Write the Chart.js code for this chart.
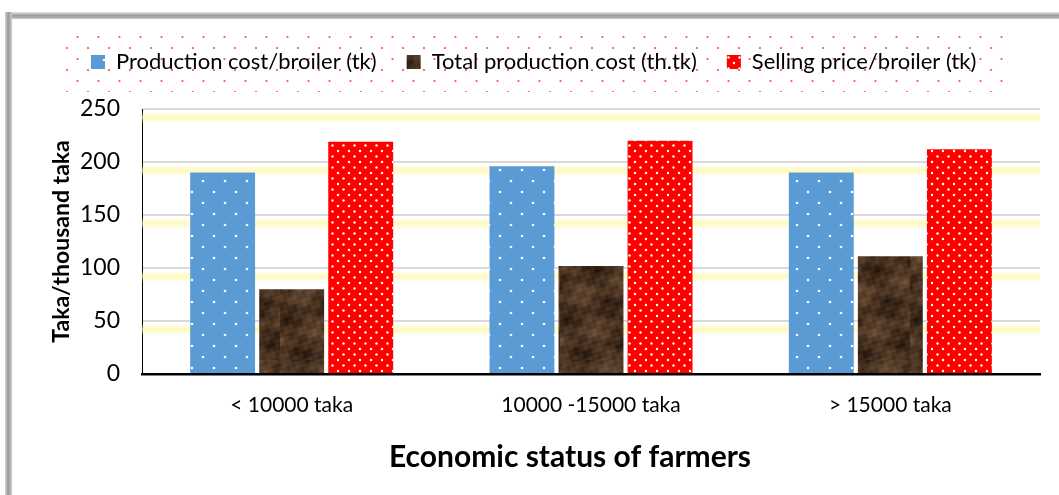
<!DOCTYPE html>
<html><head><meta charset="utf-8">
<script src="https://cdn.jsdelivr.net/npm/chart.js@4.4.1/dist/chart.umd.min.js"></script>
<style>html,body{margin:0;padding:0;background:#fff;overflow:hidden}#wrap{width:1059px;height:495px;position:relative}</style>
</head><body><div id="wrap"><canvas id="c" width="1059" height="495"></canvas></div>
<script>
// ---- data ----
const categories = ['< 10000 taka', '10000 -15000 taka', '> 15000 taka'];
const productionCostPerBroiler = [190, 196, 190];
const totalProductionCost = [80, 102, 111];
const sellingPricePerBroiler = [219, 220, 212];
const seriesNames = ['Production cost/broiler (tk)', 'Total production cost (th.tk)', 'Selling price/broiler (tk)'];
const yTickValues = [0, 50, 100, 150, 200, 250];
const xTitle = 'Economic status of farmers';
const yTitle = 'Taka/thousand taka';

const FONT = 'Lato';
const canvas = document.getElementById('c');
const mainCtx = canvas.getContext('2d');

function makeTile(w, h, draw) {
  const c = document.createElement('canvas'); c.width = w; c.height = h;
  draw(c.getContext('2d'), w, h);
  return mainCtx.createPattern(c, 'repeat');
}
function dots(x, pts, r, col) {
  x.fillStyle = col;
  pts.forEach(([px, py]) => { x.beginPath(); x.arc(px, py, r, 0, Math.PI * 2); x.fill(); });
}
const bluePattern = makeTile(22, 22, (x, w, h) => {
  x.fillStyle = '#5B9BD5'; x.fillRect(0, 0, w, h);
  dots(x, [[5, 5], [16, 16]], 1.3, '#ffffff');
});
const redPattern = makeTile(11, 11, (x, w, h) => {
  x.fillStyle = '#FF0000'; x.fillRect(0, 0, w, h);
  dots(x, [[2.5, 2.5], [8, 8]], 1.2, '#ffffff');
});
const brownPattern = makeTile(70, 120, (x, w, h) => {
  const img = x.createImageData(w, h);
  for (let py = 0; py < h; py++) for (let px = 0; px < w; px++) {
    const v = 0.42
      + 0.26 * Math.sin(px * 0.09 + py * 0.052) * Math.sin(py * 0.105 - px * 0.0449)
      + 0.16 * Math.sin((px + 2 * py) * 0.1795) * Math.sin(px * 0.2693 - py * 0.0785)
      + 0.09 * Math.sin(px * 0.628 + py * 0.419) * Math.cos(py * 0.733 - px * 0.27);
    const i = (py * w + px) * 4;
    img.data[i] = 36 + v * 90; img.data[i + 1] = 22 + v * 70; img.data[i + 2] = 12 + v * 52; img.data[i + 3] = 255;
  }
  x.putImageData(img, 0, 0);
});
const legendBgPattern = makeTile(21, 22, (x, w, h) => {
  x.fillStyle = '#ffffff'; x.fillRect(0, 0, w, h);
  dots(x, [[4, 4], [14.5, 15]], 1.1, '#ff4a4a');
});

const LEGEND_ITEM_CENTER_Y = 62;
const LEGEND_FIRST_X = 91;
const XTITLE_SHIFT = -21;

const decorPlugin = {
  id: 'decor',
  afterLayout(chart) {
    const lg = chart.legend;
    const pad = lg.options.labels.padding;
    const ih = Math.max(lg.options.labels.font.size, lg.options.labels.boxHeight);
    const dx = (LEGEND_FIRST_X - pad) - lg.left;
    const dy = (LEGEND_ITEM_CENTER_Y - pad - ih / 2) - lg.top;
    lg.left += dx; lg.right += dx; lg.top += dy; lg.bottom += dy;
    const s = chart.scales.x;
    if (!s._titlePatched) {
      const orig = s.drawTitle;
      s.drawTitle = function () {
        const l = this.left, r = this.right;
        this.left += XTITLE_SHIFT; this.right += XTITLE_SHIFT;
        orig.apply(this, arguments);
        this.left = l; this.right = r;
      };
      s._titlePatched = true;
    }
  },
  beforeDraw(chart) {
    const ctx = chart.ctx, W = chart.width, H = chart.height;
    ctx.save();
    ctx.fillStyle = '#fff'; ctx.fillRect(0, 0, W, H);
    // frame (shadowed border, top and left)
    const g1 = ctx.createLinearGradient(0, 12, 0, 20);
    g1.addColorStop(0, '#e6e6e6'); g1.addColorStop(0.45, '#9a9a9a'); g1.addColorStop(0.75, '#b8b8b8'); g1.addColorStop(1, '#ececec');
    ctx.fillStyle = g1; ctx.fillRect(5, 12, W, 7);
    const g2 = ctx.createLinearGradient(4, 0, 13, 0);
    g2.addColorStop(0, '#e6e6e6'); g2.addColorStop(0.45, '#9a9a9a'); g2.addColorStop(0.75, '#b8b8b8'); g2.addColorStop(1, '#ececec');
    ctx.fillStyle = g2; ctx.fillRect(5, 12, 7, H);
    ctx.fillStyle = '#fff'; ctx.fillRect(12, 19, W, H);
    // legend dotted background
    const lg = chart.legend;
    const hb = lg.legendHitBoxes;
    if (hb && hb.length) {
      const pad = lg.options.labels.padding;
      const ih = Math.max(lg.options.labels.font.size, lg.options.labels.boxHeight);
      const first = hb[0], last = hb[hb.length - 1];
      const x0 = lg.left + pad - 31;
      const cy = lg.top + pad + ih / 2;
      const x1 = lg.left + pad + (last.left - first.left) + last.width + 30;
      ctx.fillStyle = legendBgPattern;
      ctx.fillRect(x0, cy - 29, x1 - x0, 59);
    }
    ctx.restore();
  },
  beforeDatasetsDraw(chart) {
    const ctx = chart.ctx, a = chart.chartArea, y = chart.scales.y;
    ctx.save();
    y.ticks.forEach(t => {
      if (t.value === 0) return;
      const p = y.getPixelForValue(t.value) + 8.5;
      const g = ctx.createLinearGradient(0, p - 6, 0, p + 6);
      g.addColorStop(0, 'rgba(255,246,160,0)');
      g.addColorStop(0.5, 'rgba(255,246,160,0.7)');
      g.addColorStop(1, 'rgba(255,246,160,0)');
      ctx.fillStyle = g;
      ctx.fillRect(a.left, p - 6, a.right - a.left, 12);
    });
    ctx.restore();
  }
};

function build() {
  Chart.defaults.font.family = FONT;
  Chart.defaults.color = '#000';
  new Chart(canvas, {
    type: 'bar',
    data: {
      labels: categories,
      datasets: [
        { label: seriesNames[0], data: productionCostPerBroiler, backgroundColor: bluePattern, borderWidth: 0 },
        { label: seriesNames[1], data: totalProductionCost, backgroundColor: brownPattern, borderWidth: 0 },
        { label: seriesNames[2], data: sellingPricePerBroiler, backgroundColor: redPattern, borderWidth: 0 }
      ]
    },
    options: {
      responsive: false,
      animation: false,
      devicePixelRatio: 1,
      layout: { padding: { left: 0, right: 19, top: 47, bottom: 0 } },
      datasets: { bar: { barPercentage: 0.94, categoryPercentage: 0.692 } },
      plugins: {
        legend: {
          position: 'top', align: 'start',
          labels: { font: { size: 22 }, color: '#000', boxWidth: 14, boxHeight: 14, padding: 30 }
        },
        tooltip: { enabled: false }
      },
      scales: {
        x: {
          afterFit(s) { s.height = 121; },
          grid: { display: false, drawTicks: false },
          border: { display: true, color: '#000', width: 2.5 },
          ticks: { font: { size: 21 }, color: '#000', padding: 19 },
          title: { display: true, text: xTitle, font: { size: 30, weight: 'bold' }, color: '#000', padding: { top: 0, bottom: 20 } }
        },
        y: {
          min: 0, max: 250,
          afterFit(s) { s.width = 142; },
          afterBuildTicks(s) { s.ticks = yTickValues.map(v => ({ value: v })); },
          grid: { color: '#d9d9d9', lineWidth: 2, drawTicks: false },
          border: { display: true, color: '#000', width: 1 },
          ticks: { font: { size: 23 }, color: '#000', padding: 22 },
          title: { display: true, text: yTitle, font: { size: 23, weight: 'bold' }, color: '#000', padding: { top: 48.2, bottom: 0 } }
        }
      }
    },
    plugins: [decorPlugin]
  });
}
Promise.all([
  document.fonts.load('20px ' + FONT), document.fonts.load('bold 20px ' + FONT)
]).then(build, build);
</script>
</body></html>
